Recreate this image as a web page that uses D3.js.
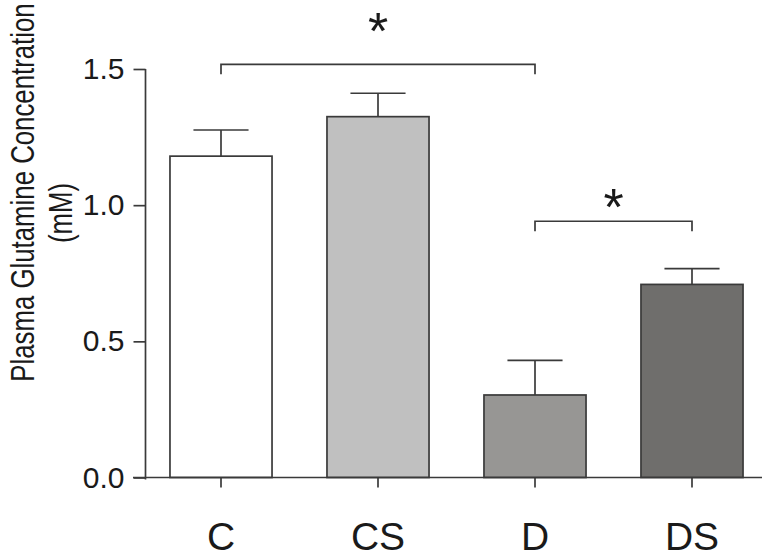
<!DOCTYPE html>
<html>
<head>
<meta charset="utf-8">
<script src="https://cdn.jsdelivr.net/npm/d3@7"></script>
<style>
  html, body { margin: 0; padding: 0; background: #fff; }
  svg { display: block; }
  text { font-family: "Liberation Sans", Arial, sans-serif; fill: #1a1a1a; }
</style>
</head>
<body>
<svg id="chart" width="771" height="560"></svg>
<script>
// ---- data ----
const categories = ["C", "CS", "D", "DS"];
const means = [1.18, 1.325, 0.303, 0.709];
const errors = [0.096, 0.086, 0.127, 0.058];
const barColors = ["#ffffff", "#c0c0c0", "#979694", "#6f6e6c"];
const yTicks = [0.0, 0.5, 1.0, 1.5];
const yLabelLines = ["Plasma Glutamine Concentration", "(mM)"];
// significance brackets
const sigFrom = ["C", "D"];
const sigTo = ["D", "DS"];
const sigLevel = [1.517, 0.941];
const sigStarLevel = [1.673, 1.028];
const sigText = ["*", "*"];

const svg = d3.select("#chart");
const stroke = "#3a3a3a";
const sw = 1.7;

const x = d3.scaleBand()
  .domain(categories)
  .range([142.5, 770.5])
  .paddingInner(0.35)
  .paddingOuter(0.175);

const y = d3.scaleLinear().domain([0, 1.5]).range([477.5, 69]);

// bars
svg.selectAll("rect.bar")
  .data(categories)
  .join("rect")
  .attr("class", "bar")
  .attr("x", d => x(d))
  .attr("y", (d, i) => y(means[i]))
  .attr("width", x.bandwidth())
  .attr("height", (d, i) => y(0) - y(means[i]))
  .attr("fill", (d, i) => barColors[i])
  .attr("stroke", stroke)
  .attr("stroke-width", sw);

// error bars (upper only)
const capW = x.bandwidth() * 0.54;
categories.forEach((c, i) => {
  const cx = x(c) + x.bandwidth() / 2;
  svg.append("line")
    .attr("x1", cx).attr("x2", cx)
    .attr("y1", y(means[i])).attr("y2", y(means[i] + errors[i]))
    .attr("stroke", stroke).attr("stroke-width", sw);
  svg.append("line")
    .attr("x1", cx - capW / 2).attr("x2", cx + capW / 2)
    .attr("y1", y(means[i] + errors[i])).attr("y2", y(means[i] + errors[i]))
    .attr("stroke", stroke).attr("stroke-width", sw);
});

// y axis
const yAxis = d3.axisLeft(y)
  .tickValues(yTicks)
  .tickFormat(d3.format(".1f"))
  .tickSize(12)
  .tickPadding(9);
const gy = svg.append("g").attr("transform", "translate(145.5,0)").call(yAxis);
gy.select(".domain").attr("d", `M0,${y(1.5)}V${y(0) + 2}`).attr("stroke", stroke).attr("stroke-width", sw);
gy.selectAll(".tick line").attr("stroke", stroke).attr("stroke-width", sw);
gy.selectAll(".tick text").attr("font-size", 30).attr("fill", "#1a1a1a")
  .attr("font-family", "'Liberation Sans', Arial, sans-serif");

// x axis
const xAxis = d3.axisBottom(x).tickSize(10).tickPadding(35);
const gx = svg.append("g").attr("transform", `translate(0,${y(0)})`).call(xAxis);
gx.select(".domain").attr("d", "M133,0H762").attr("stroke", stroke).attr("stroke-width", sw);
gx.selectAll(".tick line").attr("stroke", stroke).attr("stroke-width", sw);
gx.selectAll(".tick text").attr("font-size", 39).attr("fill", "#1a1a1a")
  .attr("font-family", "'Liberation Sans', Arial, sans-serif");

// y label (slightly tall glyphs as in the reference)
const lab = svg.append("g");
lab.append("text")
  .attr("transform", "translate(34,192.5) rotate(-90) scale(1,1.3)")
  .attr("text-anchor", "middle")
  .attr("font-size", 25.8)
  .text(yLabelLines[0]);
lab.append("text")
  .attr("transform", "translate(72,213) rotate(-90) scale(1,1.3)")
  .attr("text-anchor", "middle")
  .attr("font-size", 25.8)
  .text(yLabelLines[1]);

// significance brackets
sigFrom.forEach((f, i) => {
  const x1 = x(f) + x.bandwidth() / 2;
  const x2 = x(sigTo[i]) + x.bandwidth() / 2;
  const yy = y(sigLevel[i]);
  svg.append("path")
    .attr("d", `M${x1},${yy + 10}V${yy}H${x2}V${yy + 10}`)
    .attr("fill", "none").attr("stroke", stroke).attr("stroke-width", sw);
  svg.append("text")
    .attr("x", (x1 + x2) / 2)
    .attr("y", y(sigStarLevel[i]))
    .attr("dy", "0.53em")
    .attr("text-anchor", "middle")
    .attr("font-family", "'DejaVu Sans', sans-serif")
    .attr("font-size", 52)
    .text(sigText[i]);
});
</script>
</body>
</html>
